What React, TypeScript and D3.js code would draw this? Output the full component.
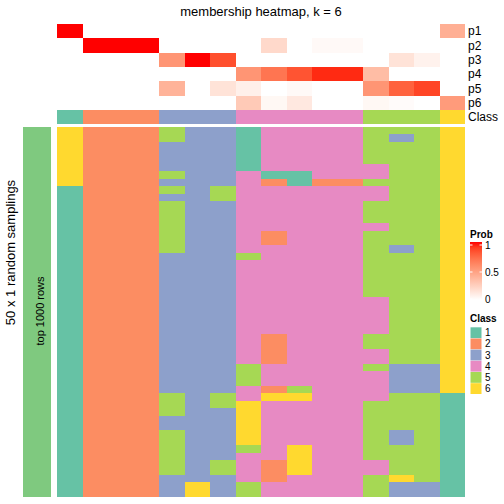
import React from "react";
import * as d3 from "d3";

// ---- data ----
const classColors = ["#66C2A5", "#FC8D62", "#8DA0CB", "#E78AC3", "#A6D854", "#FFD92F"];
const classLabels = ["1", "2", "3", "4", "5", "6"];
const probRowLabels = ["p1", "p2", "p3", "p4", "p5", "p6"];
const columnClass = [1, 2, 2, 2, 3, 3, 3, 4, 4, 4, 4, 4, 5, 5, 5, 6];
const p1 = [1, 0, 0, 0, 0, 0, 0, 0, 0, 0, 0, 0, 0, 0, 0, 0.42];
const p2 = [0, 1, 1, 1, 0, 0, 0, 0, 0.2, 0, 0.03, 0.03, 0, 0, 0, 0];
const p3 = [0, 0, 0, 0, 0.55, 1, 0.85, 0, 0, 0, 0, 0, 0, 0.15, 0.07, 0];
const p4 = [0, 0, 0, 0, 0, 0, 0, 0.55, 0.7, 0.83, 0.95, 0.95, 0.35, 0, 0, 0];
const p5 = [0, 0, 0, 0, 0.4, 0, 0.15, 0.08, 0, 0.03, 0, 0, 0.55, 0.78, 0.88, 0];
const p6 = [0, 0, 0, 0, 0, 0, 0, 0.28, 0.04, 0.12, 0, 0, 0.04, 0.02, 0, 0.52];
const probRows = [p1, p2, p3, p4, p5, p6];
// 50 random samplings x 16 samples, class per cell
const samplingRows = [
  "6222533144445556",
  "6222533144445356",
  "6222333144445556",
  "6222333144445556",
  "6222333144445556",
  "6222333144444556",
  "6222533411444556",
  "6222333421225556",
  "1222535444444556",
  "1222335444444556",
  "1222533444445556",
  "1222533444445556",
  "1222533444445556",
  "1222533444444556",
  "1222533424445556",
  "1222533424445556",
  "1222533444445356",
  "1222333544445556",
  "1222333444445556",
  "1222333444445556",
  "1222333444445556",
  "1222333444445556",
  "1222333444445556",
  "1222333444444556",
  "1222333444444556",
  "1222333444444556",
  "1222333444444556",
  "1222333444444556",
  "1222333424445556",
  "1222333424445556",
  "1222333424444556",
  "1222333424444556",
  "1222333544445336",
  "1222333544444336",
  "1222333544444336",
  "1222333425444336",
  "1222535466444551",
  "1222535644445551",
  "1222533644445551",
  "1222333644445551",
  "1222333644445551",
  "1222533644445351",
  "1222533644445351",
  "1222533546445551",
  "1222533446445551",
  "1222535426444551",
  "1222535426444551",
  "1222333424445651",
  "1222363544445331",
  "1222363544445331",
];
const probTicks = [0, 0.5, 1];

const FONT = "Liberation Sans, Arial, Helvetica, sans-serif";

export default function App() {
  const nCol = columnClass.length;
  const x = d3.scaleBand<number>().domain(d3.range(nCol)).range([57, 465]);
  const topRows = [...probRowLabels, "Class"];
  const yTop = d3.scaleBand<string>().domain(topRows).range([24, 124.3]);
  const yMain = d3.scaleBand<number>().domain(d3.range(samplingRows.length)).range([127, 497]);
  const probColor = d3
    .scaleLinear<string>()
    .domain([0, 1])
    .range(["#FFFFFF", "#FF0000"])
    .interpolate(d3.interpolateLab);
  const classColor = d3.scaleOrdinal<number, string>().domain([1, 2, 3, 4, 5, 6]).range(classColors);

  const legY = d3.scaleLinear().domain([0, 1]).range([299, 245]);
  const gradStops = d3.range(0, 1.0001, 0.1);
  const classLegY = d3.scaleBand<string>().domain(classLabels).range([327.3, 394]).paddingInner(0.03);

  return (
    <svg
      width={504}
      height={504}
      style={{ position: "absolute", left: 0, top: 0, background: "#fff" }}
      fontFamily={FONT}
    >
      <defs>
        <linearGradient id="probGrad" x1="0" y1="1" x2="0" y2="0">
          {gradStops.map((t) => (
            <stop key={t} offset={`${t * 100}%`} stopColor={probColor(t)} />
          ))}
        </linearGradient>
      </defs>
      <rect x={0} y={0} width={504} height={504} fill="#fff" />
      <text x={261} y={16} fontSize={13} textAnchor="middle" fill="#000">
        membership heatmap, k = 6
      </text>

      {/* probability rows */}
      <g shapeRendering="crispEdges">
        {probRows.map((row, ri) =>
          row.map((v, ci) => (
            <rect
              key={`p${ri}-${ci}`}
              x={x(ci)}
              y={yTop(probRowLabels[ri])}
              width={x.bandwidth()}
              height={yTop.bandwidth()}
              fill={probColor(v)}
            />
          ))
        )}
        {columnClass.map((c, ci) => (
          <rect
            key={`c${ci}`}
            x={x(ci)}
            y={yTop("Class")}
            width={x.bandwidth()}
            height={yTop.bandwidth()}
            fill={classColor(c)}
          />
        ))}
      </g>
      {topRows.map((r) => (
        <text
          key={r}
          x={468}
          y={(yTop(r) as number) + yTop.bandwidth() / 2}
          dy="0.35em"
          fontSize={12}
          fill="#000"
        >
          {r}
        </text>
      ))}

      {/* main heatmap */}
      <g shapeRendering="crispEdges">
        {samplingRows.map((row, ri) =>
          row.split("").map((ch, ci) => (
            <rect
              key={`m${ri}-${ci}`}
              x={x(ci)}
              y={yMain(ri)}
              width={x.bandwidth()}
              height={yMain.bandwidth()}
              fill={classColor(+ch)}
            />
          ))
        )}
        <rect x={23} y={127} width={28} height={370} fill="#7FC97F" />
      </g>
      <text
        transform={`translate(40,311) rotate(-90)`}
        textAnchor="middle"
        dy="0.35em"
        fontSize={11}
        fill="#000"
      >
        top 1000 rows
      </text>
      <text
        transform={`translate(15,252.5) rotate(-90)`}
        textAnchor="middle"
        fontSize={13}
        fill="#000"
      >
        50 x 1 random samplings
      </text>

      {/* Prob legend */}
      <text x={470} y={238} fontSize={10} fontWeight="bold" fill="#000">
        Prob
      </text>
      <rect x={470} y={242} width={12} height={58} fill="url(#probGrad)" />
      {probTicks.map((t) => (
        <g key={t}>
          <line x1={470} x2={472.5} y1={legY(t)} y2={legY(t)} stroke="#fff" strokeWidth={1} />
          <line x1={479.5} x2={482} y1={legY(t)} y2={legY(t)} stroke="#fff" strokeWidth={1} />
          <text x={485} y={legY(t)} dy="0.35em" fontSize={10} fill="#000">
            {t}
          </text>
        </g>
      ))}

      {/* Class legend */}
      <text x={470} y={322} fontSize={10} fontWeight="bold" fill="#000">
        Class
      </text>
      {classLabels.map((l, i) => (
        <g key={l}>
          <rect
            x={470.5}
            y={classLegY(l)}
            width={11}
            height={classLegY.bandwidth()}
            fill={classColors[i]}
          />
          <text
            x={485}
            y={(classLegY(l) as number) + classLegY.bandwidth() / 2}
            dy="0.35em"
            fontSize={10}
            fill="#000"
          >
            {l}
          </text>
        </g>
      ))}
    </svg>
  );
}
